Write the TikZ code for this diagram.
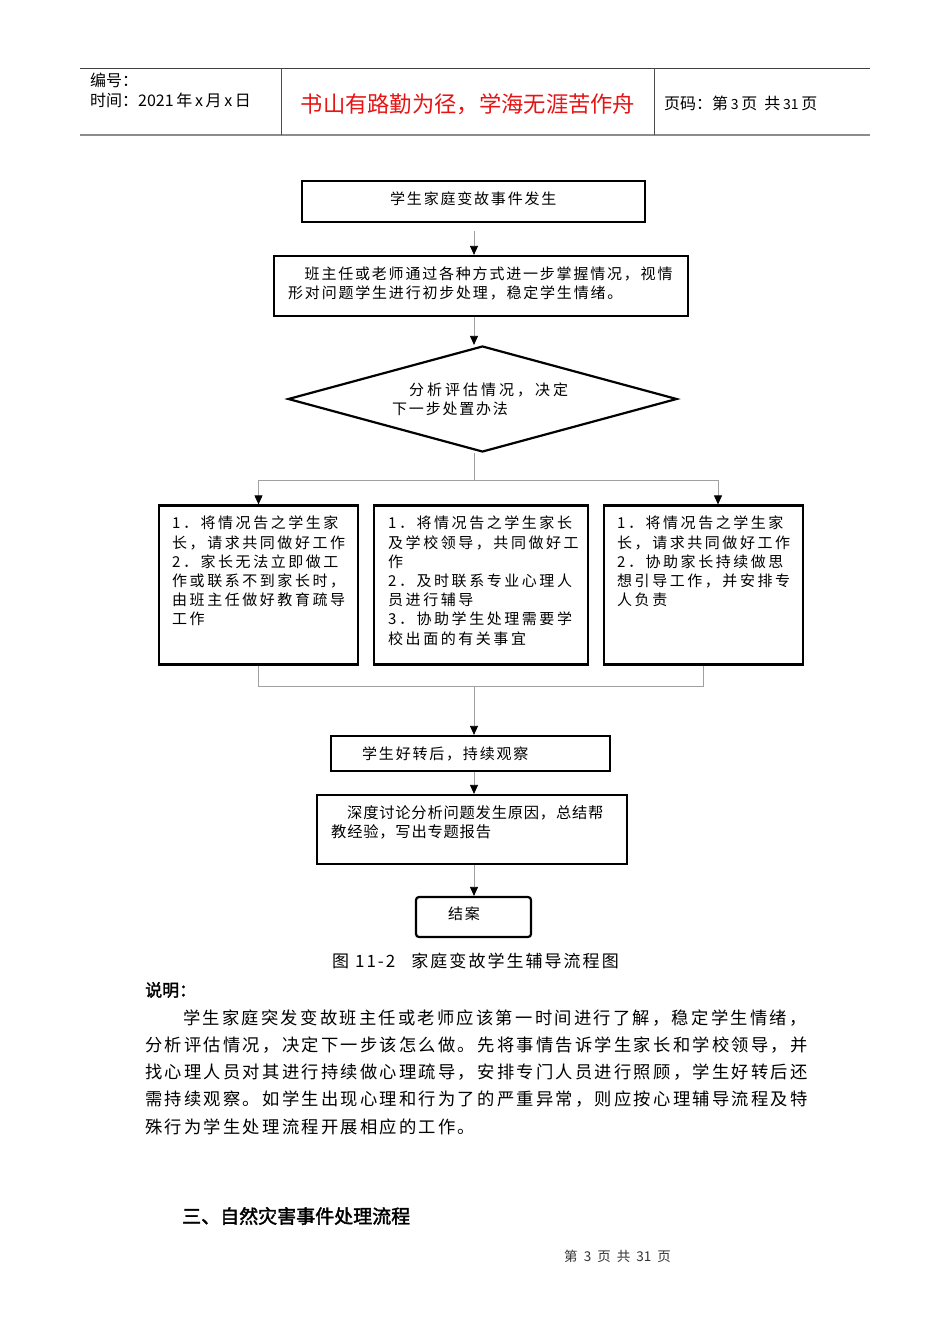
\documentclass[tikz,border=0pt]{standalone}
\usepackage{fontspec}
\setmainfont{Noto Sans CJK SC}
\newfontfamily\cjk{Noto Sans CJK SC}
\newfontfamily\cjkls[LetterSpace=12]{Noto Sans CJK SC}
\newfontfamily\cjkbx[LetterSpace=17]{Noto Sans CJK SC}
\newfontfamily\cjkpara[LetterSpace=13]{Noto Sans CJK SC}
\newfontfamily\cjkfive[LetterSpace=5]{Noto Sans CJK SC}
\newfontfamily\cjkwide[LetterSpace=20]{Noto Sans CJK SC}
\newfontfamily\cjkbold[FakeBold=2]{Noto Sans CJK SC}
\usetikzlibrary{arrows.meta,shapes.geometric}
\definecolor{conngray}{RGB}{160,160,160}
\definecolor{titlered}{RGB}{230,20,20}
\begin{document}
\begin{tikzpicture}[x=1pt,y=-1pt,
  boxs/.style={draw=black, line width=2.2pt, inner sep=0pt, rectangle},
  txt/.style={inner sep=0pt, anchor=west, font=\cjkls\fontsize{15}{19.2}\selectfont, align=left},
  conn/.style={draw=conngray, line width=0.8pt},
  arr/.style={conn, -{Triangle[length=9pt,width=8pt,color=black]}},
  hdr/.style={inner sep=0pt, anchor=west, font=\cjk\fontsize{16}{19}\selectfont},
  para/.style={inner sep=0pt, anchor=west, font=\cjkpara\fontsize{17.3}{27}\selectfont}
]
\useasboundingbox[fill=white] (0,0) rectangle (950,1344);

% header
\draw[line width=0.8pt, black!75] (80,68) -- (870,68);
\draw[line width=1.8pt, black!45] (80,135) -- (870,135);
\draw[line width=0.8pt, black!70] (281,68) -- (281,135);
\draw[line width=0.8pt, black!70] (654,68) -- (654,135);
\node[hdr] (h1) at (90,80) {编号：};
\node[hdr] (h2) at (90,100) {时间：2021\,年\,x\,月\,x\,日};
\node[inner sep=0pt, text=titlered, font=\cjk\fontsize{22.3}{24}\selectfont] (h3) at (468,104) {书山有路勤为径，学海无涯苦作舟};
\node[hdr] (h4) at (664,103) {页码：第\,{\fontsize{14}{15}\selectfont 3}\,页\ \ 共\,{\fontsize{14}{15}\selectfont 31}\,页};

% column coordinate
\coordinate (col) at (474,0);

% box 1
\node[boxs, minimum width=343pt, minimum height=41pt] (b1) at (473.5,201.5) {};
\node[txt] (t1) at (390,199) {学生家庭变故事件发生};

% box 2
\node[boxs, minimum width=414pt, minimum height=60pt] (b2) at (481,286) {};
\node[txt] (t2) at (288,283.5) {\hspace*{16.5pt}班主任或老师通过各种方式进一步掌握情况，视情\\形对问题学生进行初步处理，稳定学生情绪。};

% diamond
\node[draw=black, line width=2.2pt, diamond, inner sep=0pt, minimum width=389pt, minimum height=106pt] (dm) at (482.5,399) {};
\node[txt] (td) at (392,399.5) {\hspace*{17pt}{\cjkwide 分析评估情况，决定}\\下一步处置办法};

% three boxes
\node[boxs, minimum width=199pt, minimum height=159pt] (lb) at (258.5,585) {};
\node[boxs, minimum width=214pt, minimum height=159pt] (mb) at (481,585) {};
\node[boxs, minimum width=199pt, minimum height=159pt] (rb) at (703.5,585) {};
\node[txt, anchor=north west, font=\cjkbx\fontsize{15}{19.2}\selectfont] (tl) at (172,516) {1．将情况告之学生家\\长，请求共同做好工作\\2．家长无法立即做工\\作或联系不到家长时，\\由班主任做好教育疏导\\工作};
\node[txt, anchor=north west, font=\cjkbx\fontsize{15}{19.2}\selectfont] (tm) at (388,516) {1．将情况告之学生家长\\及学校领导，共同做好工\\作\\2．及时联系专业心理人\\员进行辅导\\3．协助学生处理需要学\\校出面的有关事宜};
\node[txt, anchor=north west, font=\cjkbx\fontsize{15}{19.2}\selectfont] (tr) at (617,516) {1．将情况告之学生家\\长，请求共同做好工作\\2．协助家长持续做思\\想引导工作，并安排专\\人负责};

% lower boxes
\node[boxs, minimum width=279pt, minimum height=35pt] (b4) at (470.5,753.5) {};
\node[txt] (t4) at (362,754) {学生好转后，持续观察};
\node[boxs, minimum width=310pt, minimum height=69pt] (b5) at (472,829.5) {};
\node[txt, font=\cjkfive\fontsize{15.3}{19.2}\selectfont] (t5) at (331,822.5) {\hspace*{16pt}深度讨论分析问题发生原因，总结帮\\教经验，写出专题报告};
\node[draw=black, line width=2.2pt, rounded corners=3pt, inner sep=0pt, minimum width=115pt, minimum height=40pt] (b6) at (473.5,917) {};
\node[txt] (t6) at (448,914) {结案};

% connectors
\coordinate (split) at (474,480);
\coordinate (join) at (474,686);
\draw[arr] ([yshift=-8pt]b1.south -| col) -- (b2.north -| col);
\draw[arr] (b2.south -| col) -- (dm.north -| col);
\draw[conn] (dm.south -| col) -- (split);
\draw[conn] (split -| lb.north) -- (split -| 718,0);
\draw[arr] (split -| lb.north) -- (lb.north);
\draw[arr] (split -| 718,0) -- (rb.north -| 718,0);
\draw[conn] (lb.south) -- (join -| lb.south) -- (join -| rb.south) -- (rb.south);
\draw[arr] (join) -- (b4.north -| col);
\draw[arr] (b4.south -| col) -- (b5.north -| col);
\draw[arr] (b5.south -| col) -- (b6.north -| col);

% caption
\node[inner sep=0pt, font=\cjkls\fontsize{17}{20}\selectfont] (cap) at (475.5,961) {图 11-2\hspace{16pt}家庭变故学生辅导流程图};

% explanation
\node[inner sep=0pt, anchor=west, font=\cjkbold\fontsize{17}{20}\selectfont] (sm) at (145,990) {说明：};
\node[para] (p1) at (183,1018) {学生家庭突发变故班主任或老师应该第一时间进行了解，稳定学生情绪，};
\node[para] (p2) at (145,1045) {分析评估情况，决定下一步该怎么做。先将事情告诉学生家长和学校领导，并};
\node[para] (p3) at (145,1072) {找心理人员对其进行持续做心理疏导，安排专门人员进行照顾，学生好转后还};
\node[para] (p4) at (145,1099.5) {需持续观察。如学生出现心理和行为了的严重异常，则应按心理辅导流程及特};
\node[para] (p5) at (145,1127) {殊行为学生处理流程开展相应的工作。};

% heading
\node[inner sep=0pt, anchor=west, font=\cjkbold\fontsize{19}{22}\selectfont] (hd) at (182,1216) {三、自然灾害事件处理流程};

% footer
\node[inner sep=0pt, anchor=west, font=\cjk\fontsize{13.5}{15}\selectfont, text=black!80] (ft) at (564,1256) {第\ \ 3\ \ 页\ \ 共\ \ 31\ \ 页};
\end{tikzpicture}
\end{document}
